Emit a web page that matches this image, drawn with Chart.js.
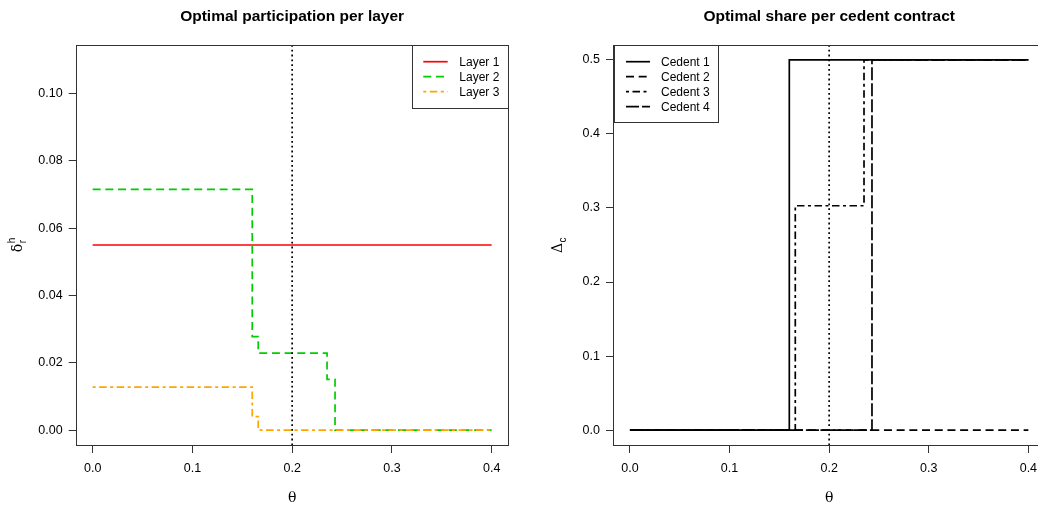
<!DOCTYPE html>
<html><head><meta charset="utf-8">
<script src="https://cdn.jsdelivr.net/npm/chart.js@4/dist/chart.umd.min.js"></script>
<style>
html,body{margin:0;padding:0;background:#fff;overflow:hidden;width:1038px;height:508px;}
canvas{position:absolute;top:0;}
#c1{left:0}
#c2{left:519px}
</style></head><body>
<canvas id="c1" width="519" height="508"></canvas>
<canvas id="c2" width="530" height="508"></canvas>
<script>
// ---- data ----
const thetaTicks = [0, 0.1, 0.2, 0.3, 0.4];
const leftYTicks = [0, 0.02, 0.04, 0.06, 0.08, 0.10];
const rightYTicks = [0, 0.1, 0.2, 0.3, 0.4, 0.5];
const vlineTheta = 0.2;

const layerNames = ["Layer 1", "Layer 2", "Layer 3"];
const layer1Theta = [0, 0.4];
const layer1 = [0.055, 0.055];
const layer2Theta = [0, 0.16, 0.166, 0.235, 0.243, 0.4];
const layer2 = [0.0715, 0.0278, 0.0229, 0.0151, 0, 0];
const layer3Theta = [0, 0.16, 0.166, 0.4];
const layer3 = [0.0128, 0.0040, 0, 0];

const cedentNames = ["Cedent 1", "Cedent 2", "Cedent 3", "Cedent 4"];
const cedent1Theta = [0, 0.16, 0.4];
const cedent1 = [0, 0.5, 0.5];
const cedent2Theta = [0, 0.4];
const cedent2 = [0, 0];
const cedent3Theta = [0, 0.166, 0.235, 0.4];
const cedent3 = [0, 0.303, 0.5, 0.5];
const cedent4Theta = [0, 0.243, 0.4];
const cedent4 = [0, 0.5, 0.5];

// ---- helpers ----
const pts = (xs, ys) => xs.map((x, i) => ({x: x, y: ys[i]}));
const SANS = '"Liberation Sans", Arial, Helvetica, sans-serif';
const SERIF = '"DejaVu Serif", "Liberation Serif", serif';

function mkDs(label, xs, ys, color, dash, idx, n) {
  return {label, data: pts(xs, ys), borderColor: color, borderWidth: 1.7,
    borderDash: dash, pointRadius: 0, stepped: 'before', tension: 0, fill: false,
    order: n - 1 - idx, clip: false};
}

function makeChart(id, cfg) {
  const canvas = document.getElementById(id);
  const W = canvas.width, H = canvas.height;
  const A = cfg.area;
  const decor = {
    id: 'decor',
    afterDatasetsDraw(chart) {
      const ctx = chart.ctx, ca = chart.chartArea;
      const xs = chart.scales.x;
      ctx.save();
      // reference line
      const vx = xs.getPixelForValue(vlineTheta);
      ctx.strokeStyle = '#000'; ctx.lineWidth = 1.7; ctx.setLineDash([1.8, 3]);
      ctx.beginPath(); ctx.moveTo(vx, ca.top); ctx.lineTo(vx, ca.bottom); ctx.stroke();
      ctx.setLineDash([]);
      // box
      ctx.strokeStyle = '#333'; ctx.lineWidth = 1;
      ctx.strokeRect(Math.round(ca.left) - 0.5, Math.round(ca.top) + 0.5,
        Math.round(ca.right) - Math.round(ca.left) + 1, Math.round(ca.bottom) - Math.round(ca.top));
      // legend
      const L = cfg.legend;
      ctx.fillStyle = '#fff';
      ctx.fillRect(L.x0, ca.top + 0.5, L.x1 - L.x0, L.y1 - ca.top);
      ctx.strokeStyle = '#333';
      ctx.strokeRect(Math.round(L.x0) + 0.5, Math.round(ca.top) + 0.5, Math.round(L.x1) - Math.round(L.x0), Math.round(L.y1) - Math.round(ca.top));
      chart.data.datasets.forEach((ds, i) => {
        const y = L.row0 + i * L.dy;
        ctx.strokeStyle = ds.borderColor; ctx.lineWidth = ds.borderWidth;
        ctx.setLineDash(ds.borderDash || []);
        ctx.beginPath(); ctx.moveTo(L.s0, y); ctx.lineTo(L.s1, y); ctx.stroke();
        ctx.setLineDash([]);
        ctx.fillStyle = '#000'; ctx.font = '12px ' + SANS;
        ctx.textAlign = 'left'; ctx.textBaseline = 'middle';
        ctx.fillText(ds.label, L.tx, y + 0.5);
      });
      ctx.restore();
    },
    afterDraw(chart) {
      const ctx = chart.ctx, ca = chart.chartArea;
      ctx.save();
      ctx.fillStyle = '#000';
      ctx.font = 'bold 15.5px ' + SANS;
      ctx.textAlign = 'center'; ctx.textBaseline = 'middle';
      ctx.fillText(cfg.title, (ca.left + A.fullRight) / 2, 17);
      ctx.font = '14px ' + SERIF;
      ctx.fillText('θ', (ca.left + A.fullRight) / 2, 498);
      cfg.drawYLabel(ctx, (ca.top + ca.bottom) / 2);
      ctx.restore();
    }
  };
  const tickFont = {family: SANS, size: 12.5};
  return new Chart(canvas, {
    type: 'line',
    data: {datasets: cfg.datasets},
    options: {
      responsive: false, animation: false, events: [],
      layout: {padding: {top: A.top, left: 0, right: W - A.right, bottom: 0}},
      plugins: {legend: {display: false}, tooltip: {enabled: false}, title: {display: false}},
      scales: {
        x: {type: 'linear', min: -0.016, max: 0.416,
          afterBuildTicks: s => { s.ticks = thetaTicks.map(v => ({value: v})); },
          afterFit: s => { s.height = H - A.bottom; },
          grid: {display: true, drawOnChartArea: false, drawTicks: true, tickLength: 8, color: '#333'},
          border: {display: false},
          ticks: {font: tickFont, color: '#000', padding: 8, maxRotation: 0, autoSkip: false,
            callback: v => v.toFixed(1)}},
        y: {type: 'linear', min: cfg.yMin, max: cfg.yMax,
          afterBuildTicks: s => { s.ticks = cfg.yTicks.map(v => ({value: v})); },
          afterFit: s => { s.width = A.left; },
          grid: {display: true, drawOnChartArea: false, drawTicks: true, tickLength: 8, color: '#333'},
          border: {display: false},
          ticks: {font: tickFont, color: '#000', padding: 6, autoSkip: false,
            callback: v => v.toFixed(cfg.yDigits)}}
      }
    },
    plugins: [decor]
  });
}

makeChart('c1', {
  title: 'Optimal participation per layer',
  area: {left: 76.7, right: 507.6, fullRight: 507.6, top: 45, bottom: 445},
  yMin: -0.0044, yMax: 0.1144, yTicks: leftYTicks, yDigits: 2,
  datasets: [
    mkDs(layerNames[0], layer1Theta, layer1, '#FF0000', [], 0, 3),
    mkDs(layerNames[1], layer2Theta, layer2, '#00CD00', [8, 4.7], 1, 3),
    mkDs(layerNames[2], layer3Theta, layer3, '#FFA500', [3, 3.5, 7.5, 3.5], 2, 3)
  ],
  legend: {x0: 412.3, x1: 507.6, y1: 108.3, s0: 423.3, s1: 447.7, tx: 459.3, row0: 61.7, dy: 15},
  drawYLabel(ctx, cy) {
    ctx.translate(17, cy); ctx.rotate(-Math.PI / 2);
    ctx.textAlign = 'left'; ctx.textBaseline = 'alphabetic';
    ctx.font = '14px ' + SERIF;
    const w = ctx.measureText('δ').width;
    const x0 = -(w + 6) / 2;
    ctx.fillText('δ', x0, 5);
    ctx.font = '10px ' + SANS;
    ctx.fillText('h', x0 + w + 0.5, -2);
    ctx.fillText('r', x0 + w + 0.5, 9);
  }
});

makeChart('c2', {
  title: 'Optimal share per cedent contract',
  area: {left: 95, right: 525.3, fullRight: 525.3, top: 45, bottom: 445},
  yMin: -0.02, yMax: 0.52, yTicks: rightYTicks, yDigits: 1,
  datasets: [
    mkDs(cedentNames[0], cedent1Theta, cedent1, '#000', [], 0, 4),
    mkDs(cedentNames[1], cedent2Theta, cedent2, '#000', [8, 4.7], 1, 4),
    mkDs(cedentNames[2], cedent3Theta, cedent3, '#000', [3, 3.5, 7.5, 3.5], 2, 4),
    mkDs(cedentNames[3], cedent4Theta, cedent4, '#000', [13, 3], 3, 4)
  ],
  legend: {x0: 95, x1: 199.3, y1: 122.3, s0: 107, s1: 131, tx: 142, row0: 61.7, dy: 15},
  drawYLabel(ctx, cy) {
    ctx.translate(38, cy); ctx.rotate(-Math.PI / 2);
    ctx.textAlign = 'left'; ctx.textBaseline = 'alphabetic';
    ctx.font = '14px ' + SERIF;
    const w = ctx.measureText('Δ').width;
    const x0 = -(w + 6) / 2;
    ctx.fillText('Δ', x0, 5);
    ctx.font = '10px ' + SANS;
    ctx.fillText('c', x0 + w + 0.5, 9);
  }
});
</script>
</body></html>
